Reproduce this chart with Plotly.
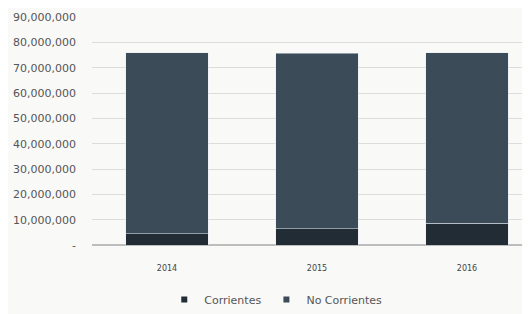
import plotly.graph_objects as go

years = ["2014", "2015", "2016"]
corrientes = [4500000, 6400000, 8600000]
no_corrientes = [71400000, 69300000, 67300000]
tick_vals = [0, 10000000, 20000000, 30000000, 40000000, 50000000, 60000000, 70000000, 80000000, 90000000]
tick_text = ["-", "10,000,000", "20,000,000", "30,000,000", "40,000,000", "50,000,000",
             "60,000,000", "70,000,000", "80,000,000", "90,000,000"]

c_corr = "#212c35"
c_nocorr = "#3b4c58"

fig = go.Figure()
fig.add_trace(go.Bar(x=years, y=corrientes, name="Corrientes", marker_color=c_corr, showlegend=False))
fig.add_trace(go.Bar(x=years, y=no_corrientes, name="No Corrientes", marker_color=c_nocorr, showlegend=False))
# legend entries with small square markers
fig.add_trace(go.Scatter(x=[None], y=[None], mode="markers", name="Corrientes",
                         marker=dict(symbol="square", size=6, color=c_corr)))
fig.add_trace(go.Scatter(x=[None], y=[None], mode="markers", name="No Corrientes",
                         marker=dict(symbol="square", size=6, color=c_nocorr)))

fig.update_layout(
    width=522, height=306,
    barmode="stack",
    bargap=0.45,
    margin=dict(l=84, r=0, t=9, b=64),
    paper_bgcolor="#f9f9f8",
    plot_bgcolor="#f9f9f8",
    font=dict(family="DejaVu Sans, sans-serif", size=10, color="#555"),
    legend=dict(orientation="h", x=0.165, xanchor="left", y=-0.24, yanchor="middle",
                font=dict(size=11, color="#555"), itemwidth=30, traceorder="normal"),
    xaxis=dict(range=[-0.5, 2.42], showgrid=False, showline=False, ticks="",
               tickfont=dict(size=8, color="#444"), ticklabelstandoff=17, automargin=False),
    yaxis=dict(range=[0, 90000000], tickvals=tick_vals, ticktext=tick_text,
               showgrid=True, gridcolor="#dcdcdc", gridwidth=1, zeroline=True,
               zerolinecolor="#bdbdbd", tickfont=dict(size=11, color="#555"), ticks="",
               ticklabelstandoff=15, automargin=False),
)

fig.write_html("out.html")
